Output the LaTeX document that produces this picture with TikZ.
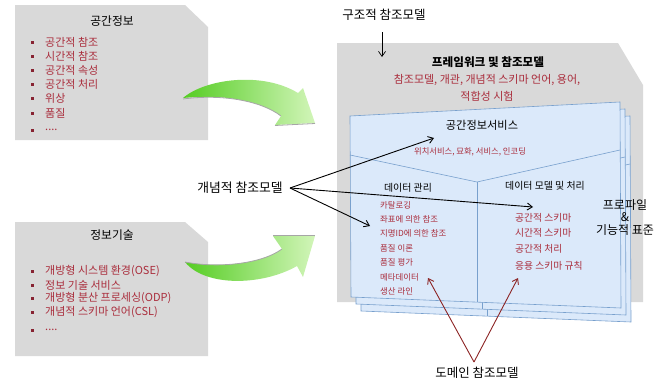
\documentclass[tikz,border=0pt]{standalone}
\usepackage{fontspec}
\setmainfont{Noto Sans CJK KR}
\usetikzlibrary{arrows.meta}
\definecolor{boxgray}{RGB}{217,217,217}
\definecolor{itemred}{RGB}{170,45,60}
\definecolor{bulletred}{RGB}{135,35,50}
\definecolor{sheetfill}{RGB}{219,233,250}
\definecolor{sheetline}{RGB}{120,160,205}
\definecolor{greenA}{RGB}{85,205,35}
\definecolor{greenB}{RGB}{210,245,185}
\definecolor{arrred}{RGB}{140,35,35}
\newcommand\myfdots{....}
\begin{document}
\begin{tikzpicture}[x=1pt,y=-1pt,
  every node/.style={inner sep=0pt},
  ttl/.style={font=\fontsize{11.8}{13}\selectfont},
  itm/.style={anchor=west,text=itemred,font=\fontsize{11}{12}\selectfont},
  ann/.style={font=\fontsize{12.5}{14}\selectfont},
  sitm/.style={anchor=west,text=itemred,font=\fontsize{8.4}{10}\selectfont},
  ritm/.style={anchor=west,text=itemred,font=\fontsize{9.8}{11}\selectfont},
  sheet/.style={fill=sheetfill,draw=sheetline,line width=0.6pt},
  blk/.style={draw=black,line width=0.9pt,-{Straight Barb[length=5pt,width=7pt]}},
  redarr/.style={draw=arrred,line width=0.9pt,-{Straight Barb[length=5pt,width=7pt]}},
  bul/.style={fill=bulletred,minimum size=3pt,inner sep=0pt}]
\useasboundingbox (0,0) rectangle (664,383);

% ---------- left box 1
\fill[boxgray] (15,5) -- (185,5) -- (208,27) -- (208,140) -- (15,140) -- cycle;
\node[ttl] (t1) at (112,21) {공간정보};
\foreach \t/\y/\n in {공간적 참조/42/1,시간적 참조/56/2,공간적 속성/70/3,공간적 처리/84/4,위상/98/5,품질/113/6,\myfdots/130/7}{
  \node[bul] (b1\n) at (32,\y) {};
  \node[itm] (i1\n) at (45,\y) {\t};
}

% ---------- left box 2
\fill[boxgray] (15,222) -- (185,222) -- (208,242) -- (208,356) -- (15,356) -- cycle;
\node[ttl] (t2) at (112,235) {정보기술};
\foreach \t/\y/\n in {개방형 시스템 환경(OSE)/271/1,정보 기술 서비스/285/2,개방형 분산 프로세싱(ODP)/298/3,개념적 스키마 언어(CSL)/312/4,\myfdots/330/5}{
  \node[bul] (b2\n) at (32,\y) {};
  \node[itm] (i2\n) at (45,\y) {\t};
}

% ---------- green arrows
\shade[left color=greenA,right color=greenB]
  (183,98) .. controls (205,79) and (262,71) .. (298,93) -- (303,88) -- (315,123) -- (275,125) -- (281,116)
  .. controls (260,100) and (220,94) .. cycle;
\draw[gray!70,line width=0.8pt] (281,116) .. controls (260,100) and (220,94) .. (183,99);
\draw[gray!70,line width=0.8pt] (275,125.5) -- (315,123.5);
\shade[left color=greenA,right color=greenB]
  (185,262) .. controls (205,287) and (262,286) .. (297,266) -- (303,277) -- (315,236) -- (273,236) -- (282,249)
  .. controls (260,265) and (215,268) .. cycle;
\draw[gray!70,line width=0.8pt] (282,249) .. controls (260,265) and (215,268) .. (185,262);
\draw[gray!70,line width=0.8pt] (273,235.5) -- (315,235.5);

% ---------- right gray box
\fill[boxgray] (337,43) -- (618,43) -- (643,85) -- (643,302) -- (337,302) -- cycle;
\node[ann] (struct) at (384,15) {구조적 참조모델};
\coordinate (sa) at (382,32);
\coordinate (sb) at (382,57);
\draw[blk,line width=0.7pt] (sa) -- (sb);
\node[font=\bfseries\fontsize{11.6}{13}\selectfont] (fw) at (488,62) {프레임워크 및 참조모델};
\node[text=itemred,font=\fontsize{11}{12}\selectfont] (fw1) at (487,80) {참조모델, 개관, 개념적 스키마 언어, 용어,};
\node[text=itemred,font=\fontsize{11}{12}\selectfont] (fw2) at (487,96) {적합성 시험};

% ---------- stacked sheets
\foreach \dx/\dy in {10/14,5/7,0/0}{
  \begin{scope}[shift={(\dx,\dy)}]
    \draw[sheet] (350,116) -- (620,102) -- (621,308) -- (351,297) -- cycle;
    \draw[sheetline,line width=0.6pt] (350,155) -- (477,182) -- (620,150);
    \draw[sheetline,line width=0.6pt] (477,182) -- (477,302);
  \end{scope}
}
\node[font=\fontsize{11.2}{12}\selectfont] (svc) at (482,125) {공간정보서비스};
\node[text=itemred,font=\fontsize{8.3}{9}\selectfont] (svc1) at (470,152) {위치서비스, 묘화, 서비스, 인코딩};
\node[font=\fontsize{9.9}{11}\selectfont] (dm) at (408,188) {데이터 관리};
\node[font=\fontsize{9.9}{11}\selectfont] (dp) at (545,186) {데이터 모델 및 처리};
\foreach \t/\y/\n in {카탈로깅/205/1,좌표에 의한 참조/219.4/2,지명ID에 의한 참조/233.8/3,품질 이론/248.2/4,품질 평가/262.6/5,메타데이터/277/6,생산 라인/291.4/7}{
  \node[sitm] (l\n) at (380,\y) {\t};
}
\foreach \t/\y/\n in {공간적 스키마/218/1,시간적 스키마/233/2,공간적 처리/249/3,응용 스키마 규칙/266/4}{
  \node[ritm] (r\n) at (515,\y) {\t};
}
\node[align=center,font=\fontsize{12}{12.5}\selectfont] (prof) at (625,217.5) {프로파일\\\&\\기능적 표준};

% ---------- conceptual reference model arrows
\node[ann,font=\fontsize{12.8}{14}\selectfont] (cm) at (240,188) {개념적 참조모델};
\coordinate (co) at (290,188);
\coordinate (ca) at (434,138);
\coordinate (cb) at (533,207);
\coordinate (cc) at (370,226);
\draw[blk] (co) -- (ca);
\draw[blk] (co) -- (cb);
\draw[blk] (co) -- (cc);

% ---------- domain reference model arrows
\node[ann] (dom) at (477,373) {도메인 참조모델};
\coordinate (do) at (474,362);
\coordinate (da) at (428,278);
\coordinate (db) at (518,278);
\draw[redarr] (do) -- (da);
\draw[redarr] (do) -- (db);
\end{tikzpicture}
\end{document}
